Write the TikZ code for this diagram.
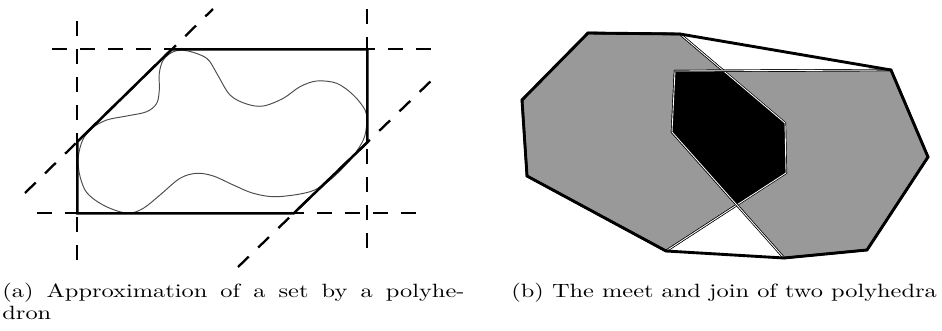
\documentclass[tikz,border=0pt]{standalone}
\usepackage{graphicx}
\usepackage{xcolor}
\usepackage{tikz}
\definecolor{facetgray}{HTML}{999999}
\tikzset{
  cut/.style={line width=1.2pt, dash pattern=on 7.8pt off 6.8pt},
  hull/.style={line width=1.3pt, line join=miter},
  blob/.style={line width=0.5pt, black!70},
  facet/.style={fill=facetgray, draw=black, line width=0.35pt, double=white, double distance=0.45pt},
  caption/.style={anchor=base west, inner sep=0pt}
}

\begin{document}
\begin{tikzpicture}[x=0.5208pt, y=-0.5208pt]
\useasboundingbox (0,0) rectangle (942,331);

% (a) set and outer polyhedron
\draw[blob] plot[smooth cycle, tension=0.55] coordinates {
  (186.7,50.7) (206.7,58.3) (216.7,73.3) (230,95) (246.7,104) (263.3,106)
  (283.3,98.3) (300,86.7) (316.7,81) (336.7,83.3) (353.3,95) (365,110)
  (366.7,123.3) (363.3,140) (350,160) (330,180) (310,191.7) (276.7,196.7)
  (253.3,193.3) (233.3,185) (213.3,176) (196.7,173.3) (180,178.3) (160,195)
  (143.3,208.3) (128.3,213.3) (110,208.3) (95,200) (85,190) (79.3,173.3)
  (78.3,156.7) (82.7,140) (91.7,128.3) (106.7,120) (126.7,116) (146.7,111.7)
  (156.7,103.3) (159.3,90) (159.3,73.3) (163.3,60) (173.3,51.7)};
\draw[hull] (77.3,213.3) -- (77.3,141.8) -- (171.8,49.3) -- (367.3,49.3)
  -- (367.3,142.4) -- (293.7,213.3) -- cycle;

% supporting half-planes
\draw[cut] (52,49.3) -- (437,49.3);
\draw[cut] (37,213.3) -- (422,213.3);
\draw[cut] (77.3,21) -- (77.3,265);
\draw[cut] (367.3,9) -- (367.3,257);
\draw[cut] (25,193) -- (213,9);
\draw[cut] (238,267) -- (433,79);

% (b) meet and join
\draw[facet] (588,33) -- (680,34) -- (785,123) -- (786,173) -- (666,251)
  -- (527,176) -- (522,100) -- cycle;
\draw[facet] (675,71) -- (891,70) -- (928,157) -- (867,250) -- (784,258)
  -- (672,132) -- cycle;
\begin{scope}
  \clip (588,33) -- (680,34) -- (785,123) -- (786,173) -- (666,251)
    -- (527,176) -- (522,100) -- cycle;
  \fill[black] (675,71) -- (891,70) -- (928,157) -- (867,250) -- (784,258)
    -- (672,132) -- cycle;
\end{scope}
\draw[facet, fill=none] (588,33) -- (680,34) -- (785,123) -- (786,173) -- (666,251);
\draw[facet, fill=none] (675,71) -- (891,70);
\draw[facet, fill=none] (784,258) -- (672,132) -- (675,71);
\draw[hull, line width=1.5pt] (588,33) -- (680,34) -- (891,70) -- (928,157)
  -- (867,250) -- (784,258) -- (666,251) -- (527,176) -- (522,100) -- cycle;

% captions
\node[caption] (capa) at (2,297)
  {\scalebox{1.27}[1]{\parbox[t]{189.5pt}{\baselineskip=11.5pt (a) Approximation of a set by a polyhe-\linebreak dron}}};
\node[caption] (capb) at (511,297)
  {\scalebox{1.27}[1]{(b) The meet and join of two polyhedra}};
\end{tikzpicture}
\end{document}
